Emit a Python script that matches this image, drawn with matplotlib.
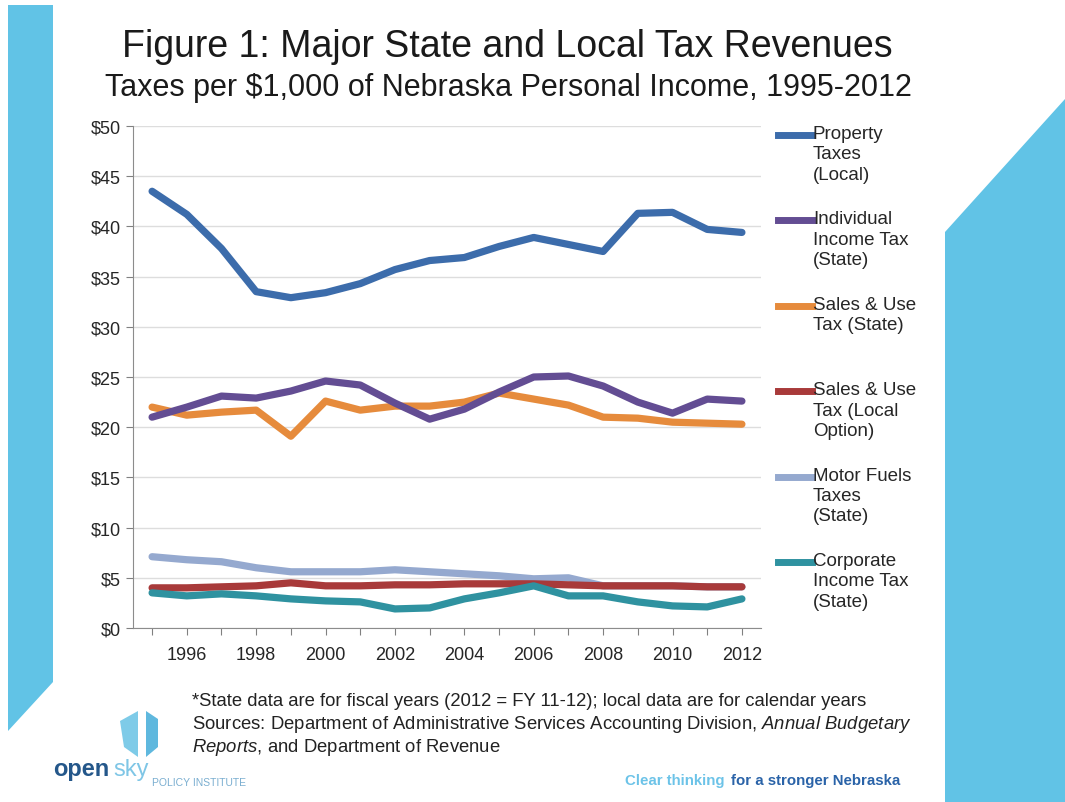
import matplotlib
matplotlib.use("Agg")
import matplotlib.pyplot as plt
from matplotlib.patches import Polygon
from matplotlib.lines import Line2D

plt.rcParams['font.family'] = ['Liberation Sans', 'DejaVu Sans']
plt.rcParams['mathtext.fontset'] = 'custom'
plt.rcParams['mathtext.it'] = 'Liberation Sans:italic'
plt.rcParams['mathtext.rm'] = 'Liberation Sans'

years = list(range(1995, 2013))

property_local = [43.5, 41.2, 37.8, 33.5, 32.9, 33.4, 34.3, 35.7, 36.6, 36.9,
                  38.0, 38.9, 38.2, 37.5, 41.3, 41.4, 39.7, 39.4]
income_state = [21.0, 22.0, 23.1, 22.9, 23.6, 24.6, 24.2, 22.4, 20.8, 21.8,
                23.5, 25.0, 25.1, 24.1, 22.5, 21.4, 22.8, 22.6]
sales_state = [22.0, 21.2, 21.5, 21.7, 19.1, 22.6, 21.7, 22.1, 22.1, 22.5,
               23.4, 22.8, 22.2, 21.0, 20.9, 20.5, 20.4, 20.3]
sales_local = [4.0, 4.0, 4.1, 4.2, 4.5, 4.2, 4.2, 4.3, 4.3, 4.4,
               4.4, 4.4, 4.3, 4.2, 4.2, 4.2, 4.1, 4.1]
motor_fuels = [7.1, 6.8, 6.6, 6.0, 5.6, 5.6, 5.6, 5.8, 5.6, 5.4,
               5.2, 4.9, 5.0, 4.2, 4.2, 4.2, 4.1, 4.1]
corporate = [3.5, 3.2, 3.4, 3.2, 2.9, 2.7, 2.6, 1.9, 2.0, 2.9,
             3.5, 4.2, 3.2, 3.2, 2.6, 2.2, 2.1, 2.9]

series = [property_local, income_state, sales_state, sales_local, motor_fuels, corporate]
labels = ["Property\nTaxes\n(Local)", "Individual\nIncome Tax\n(State)", "Sales & Use\nTax (State)",
          "Sales & Use\nTax (Local\nOption)", "Motor Fuels\nTaxes\n(State)", "Corporate\nIncome Tax\n(State)"]
colors = ['#3c6cab', '#634d93', '#e68b3c', '#a83a3a', '#95a9cf', '#2f92a0']
# draw order: light ones first so the others sit on top, like the original
order = [4, 3, 5, 2, 1, 0]

W, H = 1065, 803
fig = plt.figure(figsize=(W / 100, H / 100), dpi=100)
fig.patch.set_facecolor('white')

def px(x, y):
    return (x / W, 1 - y / H)

sky = '#61c3e6'
fig.patches.append(Polygon([px(8, 6), px(53, 6), px(53, 683), px(8, 732)], closed=True,
                           transform=fig.transFigure, facecolor=sky, edgecolor='none'))
fig.patches.append(Polygon([px(945, 233), px(1065, 100), px(1065, 803), px(945, 803)], closed=True,
                           transform=fig.transFigure, facecolor=sky, edgecolor='none'))

ax = fig.add_axes([133 / W, 1 - 629 / H, (761 - 133) / W, (629 - 127) / H])
for i in order:
    ax.plot(years, series[i], color=colors[i], lw=5.2, solid_capstyle='round',
            solid_joinstyle='round', zorder=3)

ax.set_xlim(1994.45, 2012.55)
ax.set_ylim(0, 50)
ax.set_yticks(range(0, 51, 5))
ax.set_yticklabels(['$%d' % v for v in range(0, 51, 5)])
ax.set_xticks(years)
ax.set_xticklabels([str(y) if y % 2 == 0 else '' for y in years])
ax.tick_params(axis='both', labelsize=13, colors='#808080', labelcolor='#262626', length=5)
ax.tick_params(axis='x', pad=8)
ax.tick_params(axis='y', pad=4)
ax.yaxis.grid(True, color='#dddddd', lw=1)
ax.set_axisbelow(True)
for s in ['top', 'right']:
    ax.spines[s].set_visible(False)
for s in ['left', 'bottom']:
    ax.spines[s].set_color('#8c8c8c')

# legend on the right, drawn by hand to get the stacked layout
for k in range(6):
    yc = 136 + k * 85.4
    fig.add_artist(Line2D([778 / W, 812 / W], [1 - yc / H] * 2, color=colors[k], lw=5,
                          transform=fig.transFigure))
    fig.text(813 / W, 1 - (yc - 10) / H, labels[k], fontsize=13.5, va='top', ha='left',
             linespacing=1.26, color='#262626')

fig.text(507 / W, 1 - 47 / H, "Figure 1: Major State and Local Tax Revenues", fontsize=27,
         ha='center', va='center', color='#1a1a1a')
fig.text(508 / W, 1 - 88 / H, "Taxes per $1,000 of Nebraska Personal Income, 1995-2012",
         fontsize=22, ha='center', va='center', color='#1a1a1a')

fig.text(192 / W, 1 - 702 / H,
         "*State data are for fiscal years (2012 = FY 11-12); local data are for calendar years",
         fontsize=13.3, va='center', color='#222222')
fig.text(192 / W, 1 - 725 / H,
         r"Sources: Department of Administrative Services Accounting Division, $\it{Annual\ Budgetary}$",
         fontsize=13.3, va='center', color='#222222')
fig.text(192 / W, 1 - 748 / H, r"$\it{Reports}$, and Department of Revenue",
         fontsize=13.3, va='center', color='#222222')

# logo
fig.patches.append(Polygon([px(120, 722), px(138, 712), px(138, 758), px(124, 748)], closed=True,
                           transform=fig.transFigure, facecolor='#7ecbe8', edgecolor='none'))
fig.patches.append(Polygon([px(146, 712), px(158, 720), px(158, 748), px(146, 758)], closed=True,
                           transform=fig.transFigure, facecolor='#5fb8de', edgecolor='none'))
fig.text(53 / W, 1 - 776 / H, "open", fontsize=17, fontweight='bold', color='#24578a', va='baseline')
fig.text(113 / W, 1 - 776 / H, "sky", fontsize=17, color='#7fc6e6', va='baseline')
fig.text(152 / W, 1 - 783 / H, "POLICY INSTITUTE", fontsize=7.5, color='#7aaed0', va='center')

fig.text(625 / W, 1 - 781 / H, "Clear thinking", fontsize=10.8, fontweight='bold', color='#6cc3e8',
         va='center')
fig.text(731 / W, 1 - 781 / H, "for a stronger Nebraska", fontsize=10.8, fontweight='bold',
         color='#2a63a8', va='center')

fig.savefig('out.png', dpi=100, facecolor='white')
